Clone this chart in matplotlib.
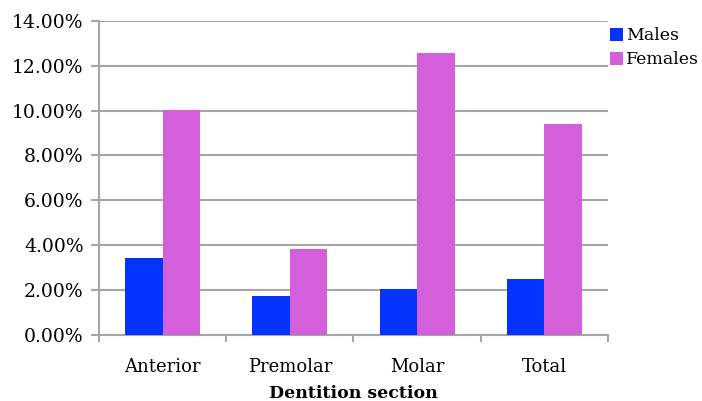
import matplotlib
matplotlib.use("Agg")
import matplotlib.pyplot as plt
import numpy as np
from matplotlib.ticker import FuncFormatter, FixedLocator

categories = ["Anterior", "Premolar", "Molar", "Total"]
males = [3.42, 1.73, 2.04, 2.48]
females = [10.04, 3.82, 12.57, 9.42]

plt.rcParams["font.family"] = ["DejaVu Serif"]

fig = plt.figure(figsize=(7.02, 4.01), dpi=100)
ax = fig.add_axes([0.141, 0.165, 0.725, 0.783])

x = np.arange(len(categories))
w = 0.295
ax.bar(x - w / 2, males, w, color="#0433FF", label="Males", zorder=3)
ax.bar(x + w / 2, females, w, color="#D35FDA", label="Females", zorder=3)

ax.set_xlim(-0.5, len(categories) - 0.5)
ax.set_ylim(0, 14)
ax.set_yticks(np.arange(0, 14.1, 2))
ax.yaxis.set_major_formatter(FuncFormatter(lambda v, p: f"{v:.2f}%"))
ax.yaxis.grid(True, color="#a6a6a6", linewidth=1.5, zorder=0)

ax.set_xticks(x)
ax.set_xticklabels(categories)
ax.xaxis.set_minor_locator(FixedLocator(np.arange(-0.5, len(categories), 1)))
ax.tick_params(axis="x", which="major", length=0, pad=17, labelsize=13)
ax.tick_params(axis="x", which="minor", length=5, width=1.5, color="#a6a6a6")
ax.tick_params(axis="y", length=6, width=1.5, color="#a6a6a6", labelsize=13.5, pad=5)

for s in ["top", "right"]:
    ax.spines[s].set_visible(False)
for s in ["left", "bottom"]:
    ax.spines[s].set_color("#a6a6a6")
    ax.spines[s].set_linewidth(1.5)

ax.set_xlabel("Dentition section", fontweight="bold", fontsize=12.5, labelpad=6)

ax.legend(loc="upper left", bbox_to_anchor=(0.998, 0.99), frameon=False,
          fontsize=12.5, handlelength=0.75, handleheight=0.75, handletextpad=0.15,
          labelspacing=0.4, borderaxespad=0.0, borderpad=0.2)

fig.savefig("out.png", dpi=100)
